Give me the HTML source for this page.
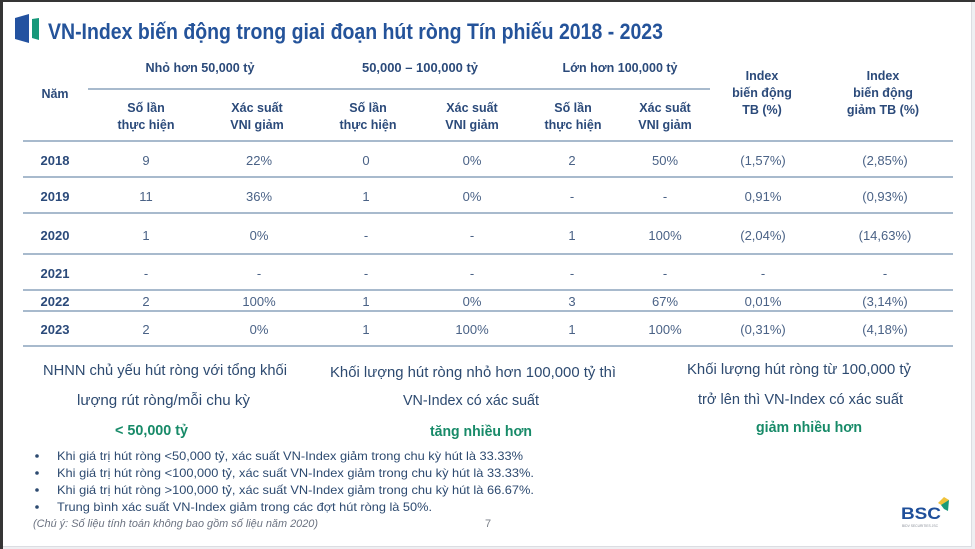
<!DOCTYPE html>
<html><head><meta charset="utf-8"><style>
html,body{margin:0;padding:0;background:#fff;}
svg{display:block;}
text{font-family:"Liberation Sans",sans-serif;}
</style></head><body>
<svg width="975" height="549" viewBox="0 0 975 549" xmlns="http://www.w3.org/2000/svg">
<rect x="0" y="0" width="975" height="549" fill="#ffffff"/>
<!-- frame -->
<rect x="0" y="0" width="975" height="2" fill="#353535"/>
<rect x="0" y="0" width="3" height="549" fill="#353535"/>
<rect x="972" y="2" width="3" height="547" fill="#eeeff2"/>
<rect x="971" y="2" width="1" height="545" fill="#dcdde2"/>
<rect x="3" y="546" width="969" height="3" fill="#eeeff2"/>
<rect x="3" y="546" width="969" height="1" fill="#dcdde2"/>

<!-- title icon -->
<polygon points="15,18 29,14 29,43 15,39" fill="#2352a0"/>
<polygon points="32,19 39,18 39,40 32,38" fill="#17987a"/>
<text x="48" y="39" font-size="22" font-weight="bold" fill="#24539a" textLength="615" lengthAdjust="spacingAndGlyphs">VN-Index biến động trong giai đoạn hút ròng Tín phiếu 2018 - 2023</text>

<!-- table header -->
<g font-weight="bold" fill="#2b4a7a" font-size="12.5" text-anchor="middle">
<text x="200" y="72" textLength="109" lengthAdjust="spacingAndGlyphs">Nhỏ hơn 50,000 tỷ</text>
<text x="420" y="72" textLength="116" lengthAdjust="spacingAndGlyphs">50,000 – 100,000 tỷ</text>
<text x="620" y="72" textLength="115" lengthAdjust="spacingAndGlyphs">Lớn hơn 100,000 tỷ</text>
<text x="55" y="98">Năm</text>
<text x="146" y="112">Số lần</text><text x="146" y="129">thực hiện</text>
<text x="257" y="112">Xác suất</text><text x="257" y="129">VNI giảm</text>
<text x="368" y="112">Số lần</text><text x="368" y="129">thực hiện</text>
<text x="472" y="112">Xác suất</text><text x="472" y="129">VNI giảm</text>
<text x="573" y="112">Số lần</text><text x="573" y="129">thực hiện</text>
<text x="665" y="112">Xác suất</text><text x="665" y="129">VNI giảm</text>
<text x="762" y="80">Index</text><text x="762" y="97">biến động</text><text x="762" y="114">TB (%)</text>
<text x="883" y="80">Index</text><text x="883" y="97">biến động</text><text x="883" y="114">giảm TB (%)</text>
</g>

<!-- lines -->
<g stroke="#9bb1c6" stroke-width="1.8">
<line x1="88" y1="89" x2="710" y2="89"/>
<line x1="23" y1="141" x2="953" y2="141"/>
<line x1="23" y1="177" x2="953" y2="177"/>
<line x1="23" y1="213" x2="953" y2="213"/>
<line x1="23" y1="254" x2="953" y2="254"/>
<line x1="23" y1="290" x2="953" y2="290"/>
<line x1="23" y1="311" x2="953" y2="311"/>
<line x1="23" y1="346" x2="953" y2="346"/>
</g>

<!-- years -->
<g font-weight="bold" fill="#2b4a7a" font-size="13" text-anchor="middle">
<text x="55" y="165">2018</text>
<text x="55" y="201">2019</text>
<text x="55" y="240">2020</text>
<text x="55" y="278">2021</text>
<text x="55" y="306">2022</text>
<text x="55" y="334">2023</text>
</g>

<!-- body -->
<g fill="#4a6286" font-size="13" text-anchor="middle">
<text x="146" y="165">9</text><text x="259" y="165">22%</text><text x="366" y="165">0</text><text x="472" y="165">0%</text><text x="572" y="165">2</text><text x="665" y="165">50%</text><text x="763" y="165">(1,57%)</text><text x="885" y="165">(2,85%)</text>
<text x="146" y="201">11</text><text x="259" y="201">36%</text><text x="366" y="201">1</text><text x="472" y="201">0%</text><text x="572" y="201">-</text><text x="665" y="201">-</text><text x="763" y="201">0,91%</text><text x="885" y="201">(0,93%)</text>
<text x="146" y="240">1</text><text x="259" y="240">0%</text><text x="366" y="240">-</text><text x="472" y="240">-</text><text x="572" y="240">1</text><text x="665" y="240">100%</text><text x="763" y="240">(2,04%)</text><text x="885" y="240">(14,63%)</text>
<text x="146" y="278">-</text><text x="259" y="278">-</text><text x="366" y="278">-</text><text x="472" y="278">-</text><text x="572" y="278">-</text><text x="665" y="278">-</text><text x="763" y="278">-</text><text x="885" y="278">-</text>
<text x="146" y="306">2</text><text x="259" y="306">100%</text><text x="366" y="306">1</text><text x="472" y="306">0%</text><text x="572" y="306">3</text><text x="665" y="306">67%</text><text x="763" y="306">0,01%</text><text x="885" y="306">(3,14%)</text>
<text x="146" y="334">2</text><text x="259" y="334">0%</text><text x="366" y="334">1</text><text x="472" y="334">100%</text><text x="572" y="334">1</text><text x="665" y="334">100%</text><text x="763" y="334">(0,31%)</text><text x="885" y="334">(4,18%)</text>
</g>

<!-- bottom blocks -->
<g fill="#2d4a70" font-size="15">
<text x="43" y="375" textLength="244" lengthAdjust="spacingAndGlyphs">NHNN chủ yếu hút ròng với tổng khối</text>
<text x="77" y="405" textLength="173" lengthAdjust="spacingAndGlyphs">lượng rút ròng/mỗi chu kỳ</text>
<text x="330" y="377" textLength="286" lengthAdjust="spacingAndGlyphs">Khối lượng hút ròng nhỏ hơn 100,000 tỷ thì</text>
<text x="403" y="405" textLength="136" lengthAdjust="spacingAndGlyphs">VN-Index có xác suất</text>
<text x="687" y="374" textLength="224" lengthAdjust="spacingAndGlyphs">Khối lượng hút ròng từ 100,000 tỷ</text>
<text x="698" y="404" textLength="205" lengthAdjust="spacingAndGlyphs">trở lên thì VN-Index có xác suất</text>
</g>
<g fill="#178a68" font-size="15" font-weight="bold">
<text x="115" y="435" textLength="73" lengthAdjust="spacingAndGlyphs">&lt; 50,000 tỷ</text>
<text x="430" y="436" textLength="102" lengthAdjust="spacingAndGlyphs">tăng nhiều hơn</text>
<text x="756" y="432" textLength="106" lengthAdjust="spacingAndGlyphs">giảm nhiều hơn</text>
</g>

<!-- bullets -->
<g fill="#2d4a70" font-size="12">
<circle cx="37" cy="456" r="1.8"/><circle cx="37" cy="473" r="1.8"/><circle cx="37" cy="490" r="1.8"/><circle cx="37" cy="507" r="1.8"/>
<text x="57" y="460" textLength="466" lengthAdjust="spacingAndGlyphs">Khi giá trị hút ròng &lt;50,000 tỷ, xác suất VN-Index giảm trong chu kỳ hút là 33.33%</text>
<text x="57" y="477" textLength="477" lengthAdjust="spacingAndGlyphs">Khi giá trị hút ròng &lt;100,000 tỷ, xác suất VN-Index giảm trong chu kỳ hút là 33.33%.</text>
<text x="57" y="494" textLength="477" lengthAdjust="spacingAndGlyphs">Khi giá trị hút ròng &gt;100,000 tỷ, xác suất VN-Index giảm trong chu kỳ hút là 66.67%.</text>
<text x="57" y="511" textLength="375" lengthAdjust="spacingAndGlyphs">Trung bình xác suất VN-Index giảm trong các đợt hút ròng là 50%.</text>
</g>
<text x="33" y="527" font-size="11" font-style="italic" fill="#6b7280" textLength="285" lengthAdjust="spacingAndGlyphs">(Chú ý: Số liệu tính toán không bao gồm số liệu năm 2020)</text>
<text x="488" y="527" font-size="11" fill="#7a7f88" text-anchor="middle">7</text>

<!-- BSC logo -->
<text x="901" y="519" font-size="17" font-weight="bold" fill="#1f4f9a" textLength="40" lengthAdjust="spacingAndGlyphs">BSC</text>
<polygon points="938,503 944,497 949,500 943,506" fill="#f0c23a"/>
<polygon points="941,505 949,500 948,511 944,509" fill="#1a9a78"/>
<text x="902" y="527" font-size="4" fill="#8a8f99" textLength="36" lengthAdjust="spacingAndGlyphs">BIDV SECURITIES JSC</text>
</svg>
</body></html>
